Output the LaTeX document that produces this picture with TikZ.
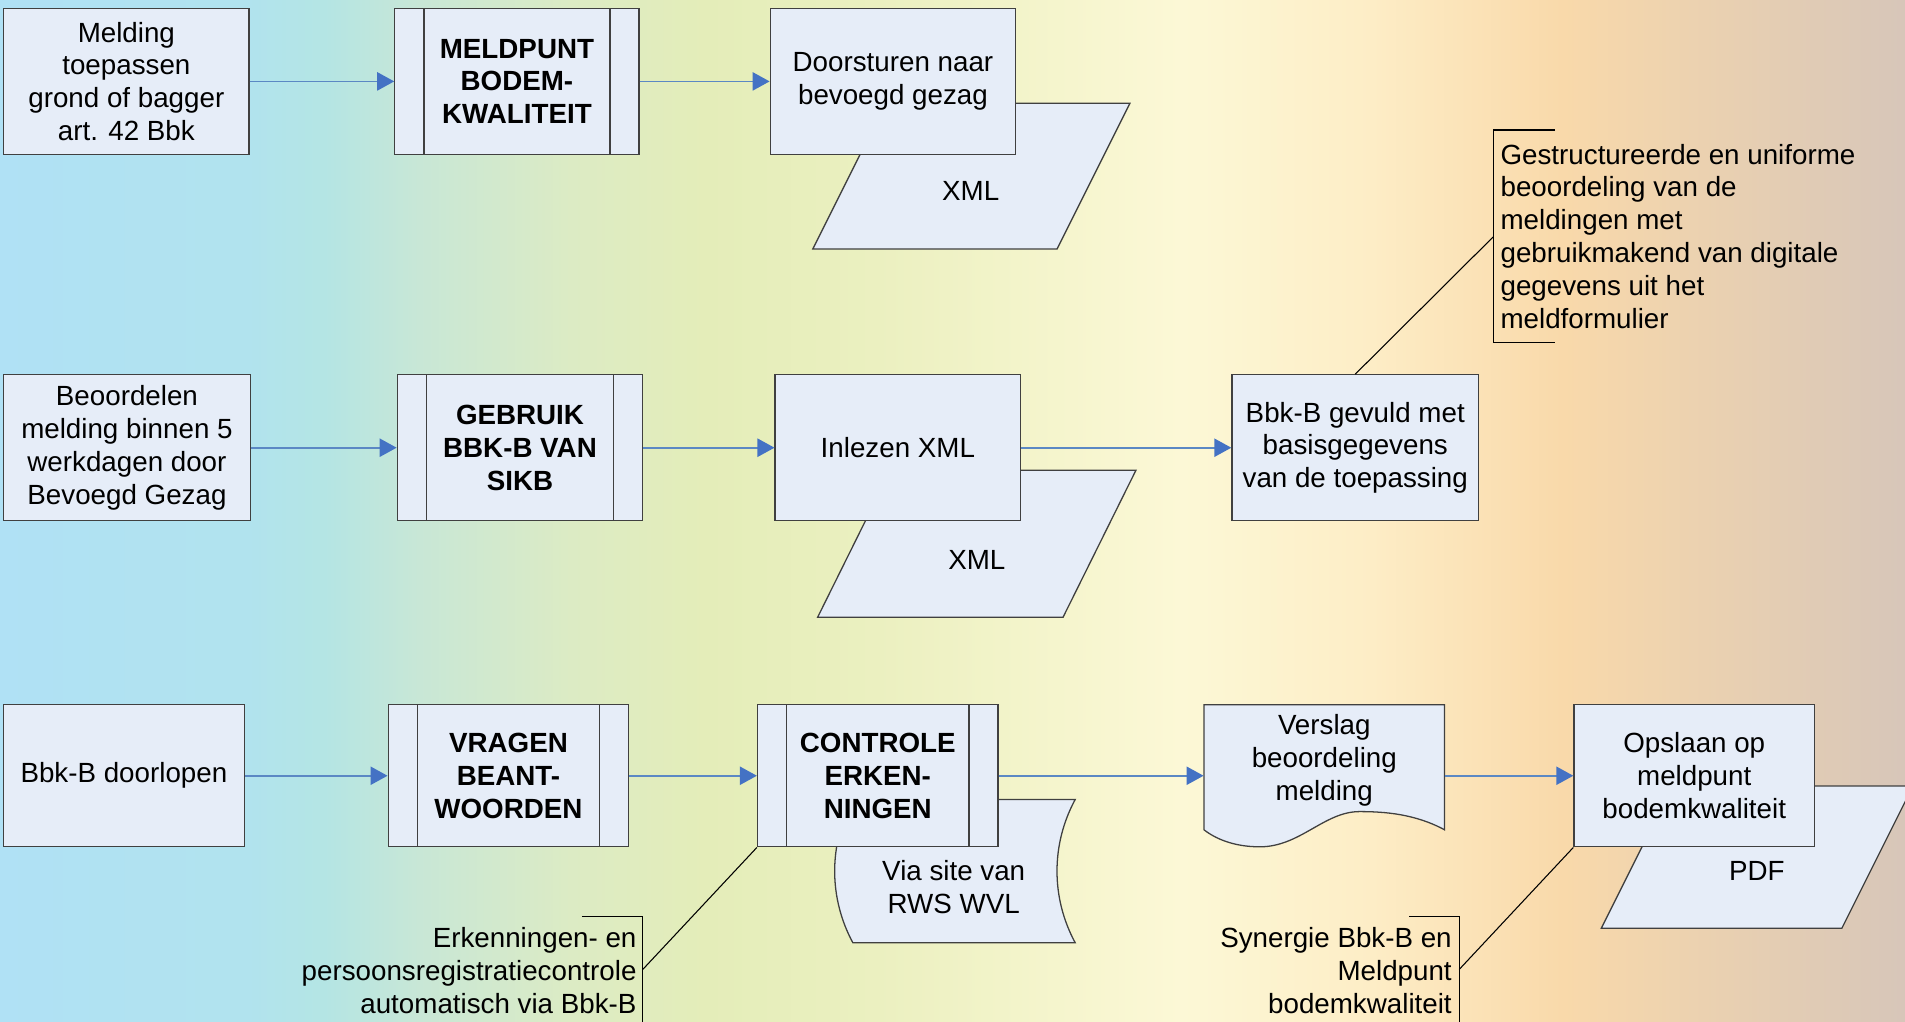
\documentclass[tikz,border=0pt]{standalone}
\usepackage{fontspec}
\setmainfont{Liberation Sans}
\usetikzlibrary{arrows.meta}

\definecolor{boxfill}{HTML}{E6EDF8}
\definecolor{boxline}{HTML}{404040}
\definecolor{flowblue}{HTML}{5B88C4}
\definecolor{headblue}{HTML}{4472C4}
\definecolor{bgA}{HTML}{B0E1F5}
\definecolor{bgB}{HTML}{B1E3EE}
\definecolor{bgC}{HTML}{B4E5E4}
\definecolor{bgD}{HTML}{C8E7D6}
\definecolor{bgE}{HTML}{DCEBC4}
\definecolor{bgF}{HTML}{E4EDB9}
\definecolor{bgG}{HTML}{EBF0C0}
\definecolor{bgH}{HTML}{FCF8D6}
\definecolor{bgI}{HTML}{FDEDC6}
\definecolor{bgJ}{HTML}{F9D9AA}
\definecolor{bgK}{HTML}{D7C6B9}

\pgfdeclarehorizontalshading{bgshade}{100bp}{color(0bp)=(bgA); color(25bp)=(bgA);
	color(31.5bp)=(bgB); color(33.5bp)=(bgC); color(36bp)=(bgD); color(40bp)=(bgE);
	color(43.5bp)=(bgF); color(48bp)=(bgG); color(56bp)=(bgH); color(61bp)=(bgI);
	color(66bp)=(bgJ); color(75bp)=(bgK); color(100bp)=(bgK)}

\begin{document}
\begin{tikzpicture}[inner sep=1pt]
	\tikzstyle{every node}=[align=center, font=\fontsize{13}{15.4}\selectfont]
	\tikzstyle{box}=[draw=boxline, line width=0.6pt, fill=boxfill, minimum width=4.04cm, minimum height=2.4cm]
	\tikzstyle{lowbox}=[minimum width=3.96cm, minimum height=2.34cm]
	\tikzstyle{proc}=[box, font=\fontsize{13}{15.4}\selectfont\bfseries, path picture={
		\draw[boxline, line width=0.6pt] ([xshift=0.48cm]path picture bounding box.north west) -- ([xshift=0.48cm]path picture bounding box.south west);
		\draw[boxline, line width=0.6pt] ([xshift=-0.48cm]path picture bounding box.north east) -- ([xshift=-0.48cm]path picture bounding box.south east);}]
	\tikzstyle{data}=[draw=boxline, line width=0.6pt, fill=boxfill]
	\tikzstyle{flow}=[draw=flowblue, line width=0.8pt, -{Triangle[length=0.28cm, width=0.3cm, color=headblue]}]
	\tikzstyle{note}=[black, line width=0.5pt]

		\clip (0,0) rectangle (31.36,-16.82);
		\shade[shading=bgshade] (0,0) rectangle (31.36,-16.82);

		% data shapes behind the steps
		\draw[data] (13.38,-4.10) -- (17.40,-4.10) -- (18.60,-1.70) -- (14.58,-1.70) -- cycle;
		\draw[data] (13.46,-10.16) -- (17.50,-10.16) -- (18.70,-7.74) -- (14.66,-7.74) -- cycle;
		\draw[data] (26.36,-15.28) -- (30.32,-15.28) -- (31.49,-12.94) -- (27.53,-12.94) -- cycle;
		\draw[data] (14.04,-13.16) -- (17.70,-13.16) .. controls (17.30,-13.90) and (17.30,-14.78) .. (17.70,-15.52)
			-- (14.04,-15.52) .. controls (13.64,-14.78) and (13.64,-13.90) .. (14.04,-13.16) -- cycle;
		\draw[data] (19.82,-11.60) -- (23.78,-11.60) -- (23.78,-13.66)
			.. controls (23.30,-13.40) and (22.80,-13.36) .. (22.38,-13.36)
			.. controls (21.80,-13.36) and (21.40,-13.94) .. (20.74,-13.94)
			.. controls (20.30,-13.94) and (20.00,-13.80) .. (19.82,-13.66) -- cycle;

		\node[box] (meld) at (2.08,-1.34) {Melding\\toepassen\\grond of bagger\\art. 42 Bbk};
		\node[proc, minimum width=4.02cm] (mbk) at (8.51,-1.34) {MELDPUNT\\BODEM-\\KWALITEIT};
		\node[box] (door) at (14.70,-1.34) {Doorsturen naar\\bevoegd gezag};
		\node (xml1) at (15.98,-3.14) {XML};

		\node[box, minimum width=4.06cm] (beoor) at (2.09,-7.37) {Beoordelen\\melding binnen 5\\werkdagen door\\Bevoegd Gezag};
		\node[proc] (sikb) at (8.56,-7.37) {GEBRUIK\\BBK-B VAN\\SIKB};
		\node[box] (inlees) at (14.78,-7.37) {Inlezen XML};
		\node (xml2) at (16.08,-9.22) {XML};
		\node[box, minimum width=4.06cm] (gevuld) at (22.31,-7.37) {Bbk-B gevuld met\\basisgegevens\\van de toepassing};

		\node[box, lowbox] (doorl) at (2.04,-12.77) {Bbk-B doorlopen};
		\node[proc, lowbox] (vragen) at (8.37,-12.77) {VRAGEN\\BEANT-\\WOORDEN};
		\node[proc, lowbox] (erken) at (14.45,-12.77) {CONTROLE\\ERKEN-\\NINGEN};
		\node (rws) at (15.70,-14.60) {Via site van\\RWS WVL};
		\node[lowbox] (verslag) at (21.80,-12.77) {};
		\node (verslagtxt) at (21.80,-12.52) {Verslag\\beoordeling\\melding};
		\node[box, lowbox] (opslaan) at (27.89,-12.77) {Opslaan op\\meldpunt\\bodemkwaliteit};
		\node (pdf) at (28.92,-14.34) {PDF};

		\draw[flow] (meld) -- (mbk);
		\draw[flow] (mbk) -- (door);
		\draw[flow] (beoor) -- (sikb);
		\draw[flow] (sikb) -- (inlees);
		\draw[flow] (inlees) -- (gevuld);
		\draw[flow] (doorl) -- (vragen);
		\draw[flow] (vragen) -- (erken);
		\draw[flow] (erken) -- (verslag);
		\draw[flow] (verslag) -- (opslaan);

		% annotations
		\node[anchor=west, align=left] (uniform) at (24.66,-3.89) {Gestructureerde en uniforme\\beoordeling van de\\meldingen met\\gebruikmakend van digitale\\gegevens uit het\\meldformulier};
		\coordinate (uniformtip) at (24.58,-3.90);
		\draw[note] (25.60,-2.14) -- (24.58,-2.14) -- (24.58,-5.64) -- (25.60,-5.64);
		\draw[note] (uniformtip) -- (gevuld.north);

		\node[anchor=east, align=right] (erkenning) at (10.52,-15.98) {Erkenningen- en\\persoonsregistratiecontrole\\automatisch via Bbk-B};
		\coordinate (erkenningtip) at (10.58,-15.96);
		\draw[note] (9.58,-15.08) -- (10.58,-15.08) -- (10.58,-17.2);
		\draw[note] (erkenningtip) -- (erken.south west);

		\node[anchor=east, align=right] (synergie) at (23.94,-15.98) {Synergie Bbk-B en\\Meldpunt\\bodemkwaliteit};
		\coordinate (synergietip) at (24.02,-15.96);
		\draw[note] (23.20,-15.08) -- (24.02,-15.08) -- (24.02,-17.2);
		\draw[note] (synergietip) -- (opslaan.south west);
	\end{tikzpicture}
\end{document}
